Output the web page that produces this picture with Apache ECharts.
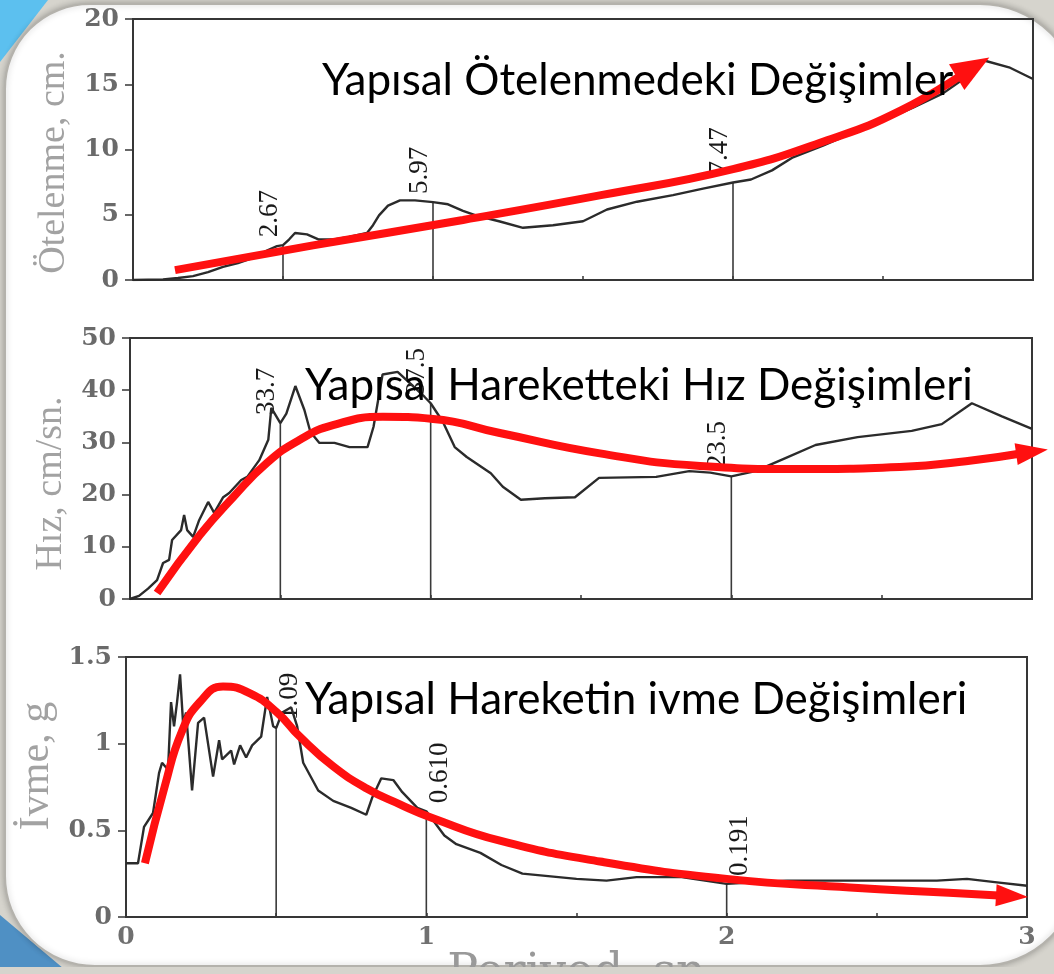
<!DOCTYPE html>
<html>
<head>
<meta charset="utf-8">
<title>Tepki spektrumları</title>
<script src="https://cdn.jsdelivr.net/npm/echarts@6/dist/echarts.min.js"></script>
<style>
  html, body { margin: 0; padding: 0; background: #d6d4cd; }
  #chart { width: 1054px; height: 974px; }
</style>
</head>
<body>
<div id="chart"></div>
<script>
// Period axis (s), shared by all three spectra
const periodMin = 0;
const periodMax = 3;
const periodStep = 1;

// Displacement spectrum (cm)
const dispT = [0, 0.1, 0.15, 0.2, 0.25, 0.3, 0.35, 0.4, 0.45, 0.48, 0.5, 0.52, 0.54, 0.58, 0.62, 0.67, 0.72, 0.78, 0.8, 0.82, 0.85, 0.89, 0.94, 1.0, 1.05, 1.1, 1.15, 1.22, 1.3, 1.4, 1.5, 1.58, 1.68, 1.8, 1.9, 2.0, 2.06, 2.13, 2.2, 2.3, 2.4, 2.5, 2.6, 2.7, 2.78, 2.84, 2.92, 3.0];
const dispV = [0, 0.05, 0.15, 0.3, 0.6, 1.0, 1.3, 1.7, 2.3, 2.6, 2.67, 3.1, 3.6, 3.5, 3.1, 3.1, 3.3, 3.6, 4.2, 4.95, 5.7, 6.1, 6.1, 5.97, 5.8, 5.3, 4.9, 4.5, 4.0, 4.2, 4.5, 5.4, 6.0, 6.5, 7.0, 7.47, 7.7, 8.4, 9.4, 10.3, 11.3, 12.2, 13.2, 14.3, 15.6, 16.8, 16.3, 15.4];

// Velocity spectrum (cm/s)
const velT = [0, 0.03, 0.06, 0.09, 0.11, 0.13, 0.14, 0.17, 0.18, 0.19, 0.21, 0.23, 0.26, 0.28, 0.31, 0.33, 0.37, 0.39, 0.43, 0.46, 0.47, 0.5, 0.52, 0.55, 0.58, 0.6, 0.63, 0.68, 0.73, 0.79, 0.81, 0.84, 0.89, 0.93, 0.98, 1.0, 1.04, 1.08, 1.12, 1.2, 1.24, 1.3, 1.38, 1.48, 1.56, 1.75, 1.86, 1.93, 2.0, 2.08, 2.18, 2.28, 2.42, 2.6, 2.7, 2.8, 2.9, 3.0];
const velV = [0, 0.6, 2, 3.6, 6.9, 7.5, 11.3, 13.2, 16.1, 13.2, 11.9, 15.1, 18.6, 16.5, 19.5, 20.3, 22.8, 23.4, 26.6, 30.5, 36.6, 33.7, 35.5, 40.8, 36.2, 32, 29.9, 29.9, 29.1, 29.1, 33, 43, 43.5, 41.4, 38.7, 37.5, 34, 29.1, 27.2, 24.1, 21.5, 19, 19.3, 19.5, 23.2, 23.4, 24.5, 24.2, 23.5, 24.5, 27, 29.5, 31, 32.2, 33.5, 37.5, 35, 32.6];

// Acceleration spectrum (g)
const accT = [0, 0.04, 0.06, 0.09, 0.11, 0.12, 0.14, 0.15, 0.16, 0.17, 0.18, 0.19, 0.2, 0.22, 0.24, 0.26, 0.29, 0.31, 0.32, 0.35, 0.36, 0.38, 0.4, 0.42, 0.45, 0.47, 0.49, 0.5, 0.52, 0.55, 0.57, 0.59, 0.64, 0.69, 0.75, 0.8, 0.82, 0.85, 0.89, 0.92, 0.97, 1.0, 1.06, 1.1, 1.18, 1.25, 1.32, 1.5, 1.6, 1.7, 1.85, 2.0, 2.2, 2.5, 2.7, 2.8, 2.9, 3.0];
const accV = [0.31, 0.31, 0.52, 0.6, 0.83, 0.89, 0.85, 1.24, 1.1, 1.24, 1.4, 1.12, 1.18, 0.73, 1.12, 1.15, 0.81, 1.02, 0.91, 0.96, 0.88, 0.99, 0.92, 0.99, 1.04, 1.27, 1.1, 1.09, 1.18, 1.21, 1.1, 0.89, 0.73, 0.67, 0.63, 0.59, 0.69, 0.8, 0.79, 0.72, 0.63, 0.61, 0.47, 0.42, 0.37, 0.3, 0.25, 0.22, 0.21, 0.23, 0.23, 0.191, 0.21, 0.21, 0.21, 0.22, 0.2, 0.18];

const markT = [0.5, 1.0, 2.0];
const dispMarkText = ['2.67', '5.97', '7.47'];
const velMarkText = ['33.7', '37.5', '23.5'];
const accMarkText = ['1.09', '0.610', '0.191'];

// Hand-drawn trend arrows (the last point is the arrow head)
const dispTrendT = [0.14, 0.6, 1.1, 1.56, 2.0, 2.3, 2.56, 2.8];
const dispTrendV = [0.76, 2.65, 4.6, 6.5, 8.5, 10.6, 13.0, 16.3];
const velTrendT = [0.09, 0.233, 0.343, 0.456, 0.565, 0.675, 0.841, 1.008, 1.23, 1.563, 1.896, 2.228, 2.56, 2.78, 3.0];
const velTrendV = [1.15, 12.3, 19.5, 26.1, 30.5, 33.3, 34.9, 34.5, 31.8, 27.9, 25.5, 24.9, 25.3, 26.4, 28.2];
const accTrendT = [0.063, 0.13, 0.186, 0.246, 0.323, 0.413, 0.503, 0.579, 0.689, 0.803, 0.912, 1.022, 1.245, 1.578, 2.0, 2.41, 2.74, 2.95];
const accTrendV = [0.31, 0.76, 1.07, 1.24, 1.33, 1.29, 1.18, 1.04, 0.87, 0.74, 0.65, 0.57, 0.44, 0.32, 0.22, 0.17, 0.14, 0.12];

// Axis titles and annotations
const yNames = ['Ötelenme, cm.', 'Hız, cm/sn.', 'İvme, g'];
const xName = 'Periyod, sn';
const notes = ['Yapısal Ötelenmedeki Değişimler', 'Yapısal Hareketteki Hız Değişimleri', 'Yapısal Hareketin ivme Değişimleri'];

const zip = (a, b) => a.map((v, i) => [v, b[i]]);

const panels = [
  { T: dispT, V: dispV, mT: markT, mText: dispMarkText, tT: dispTrendT, tV: dispTrendV,
    yMax: 20, yStep: 5, grid: { left: 133, top: 19, width: 900, height: 261 },
    nameGap: 58, namePad: [0, 26, 0, 0], nameSize: 38, markSide: 'bottom', head: [30, 38] },
  { T: velT, V: velV, mT: markT, mText: velMarkText, tT: velTrendT, tV: velTrendV,
    yMax: 50, yStep: 10, grid: { left: 130, top: 338, width: 902, height: 261 },
    nameGap: 58, namePad: [0, 30, 0, 0], nameSize: 38, markSide: 'bottom', head: [22, 32] },
  { T: accT, V: accV, mT: markT, mText: accMarkText, tT: accTrendT, tV: accTrendV,
    yMax: 1.5, yStep: 0.5, grid: { left: 126, top: 657, width: 901, height: 260 },
    nameGap: 64, namePad: [0, 0, 0, 42], nameSize: 42, markSide: 'top', head: [22, 32] }
];

const axisColor = '#363636';
const scanGray = '#6a6a6a';

const grids = [], xAxes = [], yAxes = [], series = [];

panels.forEach((p, i) => {
  grids.push(Object.assign({
    show: true, borderColor: axisColor, borderWidth: 2,
    backgroundColor: 'transparent', containLabel: false, outerBoundsMode: 'none'
  }, p.grid));

  const isBottom = i === panels.length - 1;
  xAxes.push({
    type: 'value', gridIndex: i, min: periodMin, max: periodMax, interval: periodStep,
    axisLine: { show: true, lineStyle: { color: axisColor, width: 2 } },
    axisTick: { show: true, inside: true, length: 4, lineStyle: { color: axisColor, width: 1.5 } },
    minorTick: { show: true, splitNumber: 2, length: 4, lineStyle: { color: axisColor, width: 1.5 } },
    splitLine: { show: false },
    axisLabel: {
      show: isBottom, margin: 8, fontFamily: 'DejaVu Serif', fontSize: 25,
      fontWeight: 'bold', color: '#707070'
    },
    name: isBottom ? xName : '',
    nameLocation: 'middle', nameGap: 30,
    nameTextStyle: { fontFamily: 'DejaVu Serif', fontSize: 46, color: '#999', verticalAlign: 'top' }
  });

  yAxes.push({
    type: 'value', gridIndex: i, min: 0, max: p.yMax, interval: p.yStep,
    axisLine: { show: true, lineStyle: { color: axisColor, width: 2 } },
    axisTick: { show: true, inside: false, length: 8, lineStyle: { color: axisColor, width: 1.5 } },
    splitLine: { show: false },
    axisLabel: { margin: 14, fontFamily: 'DejaVu Serif', fontSize: 25, fontWeight: 'bold', color: scanGray },
    name: yNames[i], nameLocation: 'middle', nameGap: p.nameGap,
    nameTextStyle: {
      fontFamily: 'Liberation Serif', fontSize: p.nameSize, color: '#a2a2a2', padding: p.namePad
    }
  });

  // spectrum curve
  series.push({
    type: 'line', xAxisIndex: i, yAxisIndex: i, data: zip(p.T, p.V),
    showSymbol: false, smooth: false, z: 3, silent: true,
    lineStyle: { color: '#2b2b2b', width: 2.4 }
  });

  // value read-offs: thin drop lines with rotated value labels
  series.push({
    type: 'bar', xAxisIndex: i, yAxisIndex: i,
    data: zip(p.mT, p.mText.map(Number)),
    barWidth: 1.6, z: 2, silent: true,
    itemStyle: { color: '#3a3a3a' },
    label: {
      show: true, position: 'top', distance: 8, rotate: 90,
      align: 'left', verticalAlign: p.markSide,
      formatter: (d) => p.mText[d.dataIndex],
      fontFamily: 'Liberation Serif', fontSize: 27, color: '#1a1a1a'
    }
  });

  // red trend curve
  series.push({
    type: 'line', xAxisIndex: i, yAxisIndex: i, data: zip(p.tT, p.tV),
    showSymbol: false, smooth: 0.5, z: 5, silent: true,
    lineStyle: { color: '#ff1010', width: 8, cap: 'butt' }
  });

  // arrow head at the end of the trend curve
  const n = p.tT.length;
  series.push({
    type: 'scatter', xAxisIndex: i, yAxisIndex: i,
    data: [[p.tT[n - 1], p.tV[n - 1]]],
    symbol: 'triangle', symbolSize: p.head, symbolRotate: 0,
    clip: false, z: 6, silent: true,
    itemStyle: { color: '#ff1010', opacity: 1 }
  });
});

const noteY = [81, 386, 700];
const noteX = [322, 305, 305];

const graphics = [
  // slide frame
  { type: 'polygon', z: -30, shape: { points: [[0, 0], [48, 0], [0, 62]] }, style: { fill: '#5cc0ef' } },
  { type: 'polygon', z: -30, shape: { points: [[0, 915], [0, 974], [70, 974]] }, style: { fill: '#4f90c4' } },
  { type: 'rect', z: -20,
    shape: { x: 5, y: 4, width: 1075, height: 962, r: [85, 100, 100, 90] },
    style: { fill: '#ffffff', stroke: '#b4b2ac', lineWidth: 2, shadowBlur: 6, shadowColor: 'rgba(0,0,0,0.25)' } },
  // band that crops the bottom of the page
  { type: 'rect', z: 200, shape: { x: 0, y: 967, width: 1054, height: 7 }, style: { fill: '#d6d4cd' } }
];
notes.forEach((t, i) => {
  graphics.push({
    type: 'text', z: 100, x: noteX[i], y: noteY[i],
    style: { text: t, fill: '#000', font: '44px Lato', align: 'left', verticalAlign: 'middle' }
  });
});

const chart = echarts.init(document.getElementById('chart'), null, { renderer: 'canvas' });
chart.setOption({
  backgroundColor: '#d6d4cd',
  animation: false,
  grid: grids, xAxis: xAxes, yAxis: yAxes, series: series,
  graphic: { elements: graphics }
});

// orient each arrow head along the last segment of its trend curve
const rot = panels.map((p, i) => {
  const n = p.tT.length;
  const a = chart.convertToPixel({ gridIndex: i }, [p.tT[n - 2], p.tV[n - 2]]);
  const b = chart.convertToPixel({ gridIndex: i }, [p.tT[n - 1], p.tV[n - 1]]);
  return Math.atan2(-(b[1] - a[1]), b[0] - a[0]) * 180 / Math.PI - 90;
});
chart.setOption({
  series: series.map((s, k) => (k % 4 === 3 ? { symbolRotate: rot[(k - 3) / 4] } : {}))
});
</script>
</body>
</html>
